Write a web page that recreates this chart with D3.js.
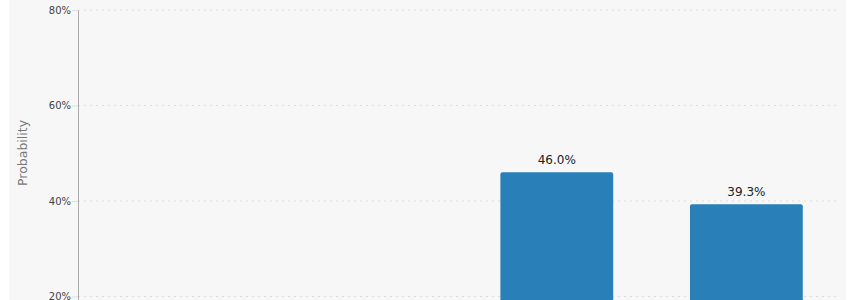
<!DOCTYPE html>
<html>
<head>
<meta charset="utf-8">
<script src="https://cdn.jsdelivr.net/npm/d3@7"></script>
<style>
  body { margin: 0; background: #fff; overflow: hidden; font-family: "DejaVu Sans", Verdana, sans-serif; }
</style>
</head>
<body>
<div id="chart"></div>
<script>
// data (first two bars fall below the visible 20% line)
const categories = ["Outcome 1", "Outcome 2", "Outcome 3", "Outcome 4"];
const probs = [0.046, 0.101, 0.460, 0.393];
const yTicks = [0, 0.2, 0.4, 0.6, 0.8];

const W = 855, H = 440;
const margin = {top: 10, left: 78, right: 9, bottom: 48};

const svg = d3.select("#chart").append("svg")
    .attr("width", W)
    .attr("height", H);

// panel background
svg.append("rect")
    .attr("x", 9).attr("y", 0)
    .attr("width", W - 18).attr("height", H)
    .attr("fill", "#f7f7f7");

const x = d3.scaleBand()
    .domain(categories)
    .range([margin.left, W - margin.right])
    .paddingInner(0.405)
    .paddingOuter(0.228);

const y = d3.scaleLinear()
    .domain([0, 0.8])
    .range([392, margin.top]);

// gridlines
svg.append("g")
  .selectAll("line")
  .data(yTicks)
  .join("line")
    .attr("x1", margin.left).attr("x2", 840)
    .attr("y1", d => y(d)).attr("y2", d => y(d))
    .attr("stroke", "#dcdcdc")
    .attr("stroke-dasharray", "2,4");

// y axis
const yAxis = svg.append("g")
    .attr("transform", `translate(${margin.left},0)`)
    .call(d3.axisLeft(y).tickValues(yTicks).tickFormat(d3.format(".0%")).tickSize(6).tickSizeOuter(0));
yAxis.select(".domain").attr("stroke", "#aaa");
yAxis.selectAll(".tick line").attr("stroke", "#ddd");
yAxis.selectAll(".tick text")
    .attr("fill", "#444")
    .attr("font-size", 10)
    .attr("font-family", "DejaVu Sans, sans-serif")
    .attr("x", -7);

svg.append("text")
    .attr("transform", `translate(27,153) rotate(-90)`)
    .attr("text-anchor", "middle")
    .attr("fill", "#777")
    .attr("font-size", 12.5)
    .text("Probability");

// bars
svg.append("g")
  .selectAll("rect")
  .data(probs)
  .join("rect")
    .attr("x", (d, i) => x(categories[i]))
    .attr("y", d => y(d))
    .attr("width", x.bandwidth())
    .attr("height", d => y(0) - y(d))
    .attr("rx", 2)
    .attr("fill", "#2980b9");

// value labels
svg.append("g")
  .selectAll("text")
  .data(probs)
  .join("text")
    .attr("x", (d, i) => x(categories[i]) + x.bandwidth() / 2)
    .attr("y", d => y(d) - 8)
    .attr("text-anchor", "middle")
    .attr("fill", "#222")
    .attr("font-size", 12)
    .text(d => d3.format(".1%")(d));

// x axis
const xAxis = svg.append("g")
    .attr("transform", `translate(0,${y(0)})`)
    .call(d3.axisBottom(x).tickSizeOuter(0));
xAxis.select(".domain").attr("stroke", "#aaa");
xAxis.selectAll(".tick text").attr("fill", "#444").attr("font-size", 11);
</script>
</body>
</html>
